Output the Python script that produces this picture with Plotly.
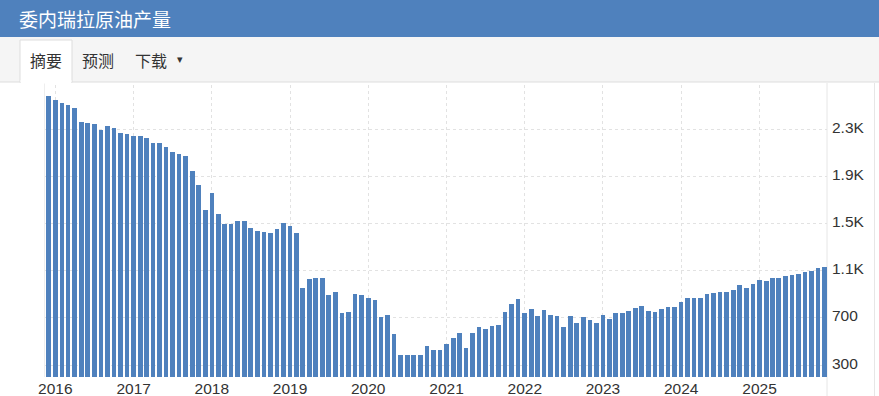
import plotly.graph_objects as go
import pandas as pd

# ---------------- data ----------------
months = pd.date_range("2015-12-01", periods=120, freq="MS")
production = [
    2583, 2549, 2523, 2506, 2481, 2362, 2354, 2345, 2294, 2328, 2311, 2269,
    2260, 2243, 2243, 2226, 2184, 2184, 2150, 2107, 2090, 2073, 1946, 1827,
    1615, 1759, 1581, 1496, 1496, 1521, 1521, 1462, 1437, 1428, 1420, 1454,
    1504, 1479, 1420, 953, 1030, 1038, 1038, 894, 919, 741, 750, 903,
    894, 868, 851, 707, 724, 562, 384, 384, 384, 384, 460, 427,
    427, 477, 528, 571, 443, 571, 622, 605, 630, 639, 750, 818,
    860, 741, 775, 716, 767, 724, 716, 622, 716, 656, 707, 682,
    656, 724, 690, 741, 741, 758, 784, 801, 758, 750, 775, 792,
    792, 835, 868, 868, 868, 902, 911, 919, 919, 936, 979, 953,
    987, 1021, 1012, 1038, 1038, 1055, 1064, 1072, 1089, 1098, 1123, 1132,
]
ytick_vals = [300, 700, 1100, 1500, 1900, 2300]
ytick_text = ["300", "700", "1.1K", "1.5K", "1.9K", "2.3K"]
title_text = "委内瑞拉原油产量"
tab_labels = ["摘要", "预测", "下载"]

# ---------------- layout helpers ----------------
W, H = 879, 396
L, R, T, B = 45, 827, 85, 377


def px(x):
    return (x - L) / (R - L)


def py(y):
    return (B - y) / (B - T)


x_start = pd.Timestamp("2015-11-14")
x_end = pd.Timestamp("2025-11-12")
px_per_day = (R - L) / (x_end - x_start).days
bar_w_ms = 4.7 / px_per_day * 86400000

BLUE = "#4f81bd"
CJK = "Noto Sans CJK SC, Noto Sans, sans-serif"
LAT = "Liberation Sans, Arial, sans-serif"
GRID = "#e2e2e2"

fig = go.Figure()
fig.add_trace(go.Bar(
    x=months, y=production, width=[bar_w_ms] * len(months),
    marker=dict(color=BLUE, line=dict(width=0)),
    hoverinfo="x+y",
))

shapes = [
    # header
    dict(type="rect", xref="paper", yref="paper", x0=px(0), x1=px(W), y0=py(37), y1=py(0),
         fillcolor=BLUE, line=dict(width=0), layer="above"),
    # tab bar
    dict(type="rect", xref="paper", yref="paper", x0=px(0), x1=px(W), y0=py(82), y1=py(37),
         fillcolor="#f5f5f5", line=dict(width=0), layer="above"),
    dict(type="line", xref="paper", yref="paper", x0=px(0), x1=px(W), y0=py(82), y1=py(82),
         line=dict(color="#dddddd", width=1), layer="above"),
    # active tab
    dict(type="rect", xref="paper", yref="paper", x0=px(20), x1=px(72), y0=py(82.5), y1=py(40),
         fillcolor="white", line=dict(color="#dddddd", width=1), layer="above"),
    dict(type="rect", xref="paper", yref="paper", x0=px(20.6), x1=px(71.4), y0=py(83.5), y1=py(80),
         fillcolor="white", line=dict(width=0), layer="above"),
    # plot borders
    dict(type="line", xref="paper", yref="paper", x0=px(827), x1=px(827), y0=py(396), y1=py(83),
         line=dict(color="#e6e6e6", width=1), layer="below"),
    dict(type="line", xref="paper", yref="paper", x0=px(874.5), x1=px(874.5), y0=py(396), y1=py(83),
         line=dict(color="#e6e6e6", width=1), layer="below"),
    dict(type="line", xref="paper", yref="paper", x0=px(44.5), x1=px(44.5), y0=0, y1=py(83),
         line=dict(color="#eeeeee", width=1), layer="below"),
]

annotations = [
    dict(text=title_text, xref="paper", yref="paper", x=px(17), y=py(18.5),
         xanchor="left", yanchor="middle", showarrow=False,
         font=dict(family=CJK, size=19, color="white")),
    dict(text=tab_labels[0], xref="paper", yref="paper", x=px(46), y=py(60),
         xanchor="center", yanchor="middle", showarrow=False,
         font=dict(family=CJK, size=16, color="#333333")),
    dict(text=tab_labels[1], xref="paper", yref="paper", x=px(98), y=py(60),
         xanchor="center", yanchor="middle", showarrow=False,
         font=dict(family=CJK, size=16, color="#333333")),
    dict(text=tab_labels[2], xref="paper", yref="paper", x=px(151), y=py(60),
         xanchor="center", yanchor="middle", showarrow=False,
         font=dict(family=CJK, size=16, color="#333333")),
    dict(text="▾", xref="paper", yref="paper", x=px(180), y=py(59),
         xanchor="center", yanchor="middle", showarrow=False,
         font=dict(family="DejaVu Sans", size=11, color="#333333")),
]

fig.update_layout(
    width=W, height=H,
    margin=dict(l=L, r=W - R, t=T, b=H - B, pad=0),
    paper_bgcolor="white", plot_bgcolor="white",
    showlegend=False,
    bargap=0,
    shapes=shapes,
    annotations=annotations,
    xaxis=dict(
        type="date", range=[x_start, x_end],
        tick0="2016-01-01", dtick="M12", tickformat="%Y",
        showgrid=True, gridcolor=GRID, griddash="dot", gridwidth=1,
        showline=False, zeroline=False, ticks="",
        tickfont=dict(family=LAT, size=15.5, color="#333333"),
        automargin=False, fixedrange=True,
    ),
    yaxis=dict(
        range=[199, 2676], side="right",
        tickvals=ytick_vals, ticktext=ytick_text,
        showgrid=True, gridcolor=GRID, griddash="dot", gridwidth=1,
        showline=False, zeroline=False, ticks="",
        ticklabelshift=-2, ticklabelstandoff=4,
        tickfont=dict(family=LAT, size=15.5, color="#333333"),
        automargin=False, fixedrange=True,
    ),
)

fig.write_html("out.html", config={"displayModeBar": False})
